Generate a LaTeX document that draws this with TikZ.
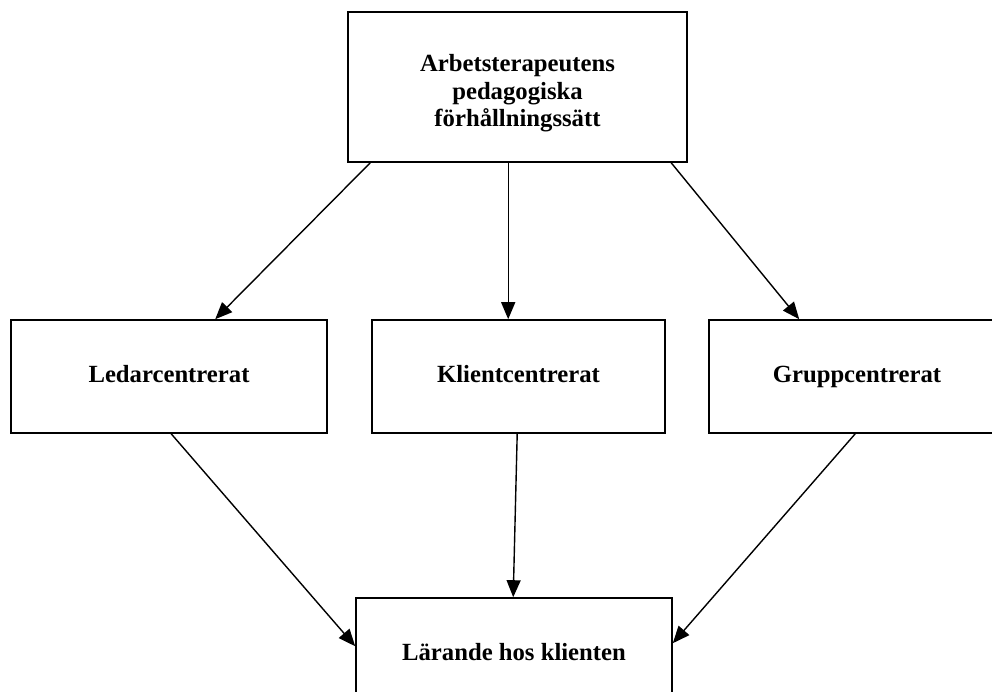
\documentclass[tikz,border=0pt]{standalone}
\usepackage{fontspec}
\setmainfont{Liberation Serif}
\usetikzlibrary{arrows.meta}
\begin{document}
\begin{tikzpicture}[x=1pt,y=-1pt,
  box/.style={draw=black, line width=1.6pt, inner sep=0pt, align=center,
    font=\fontsize{24.7}{27.5}\selectfont\bfseries},
  onebox/.style={box, minimum height=113pt, text height=16pt, text depth=5pt},
  conn/.style={line width=1.4pt, -{Triangle[length=17pt,width=14pt]}}]
\useasboundingbox (0,0) rectangle (992,691);
\clip (0,0) rectangle (992,691);
\node[box, minimum width=339pt, minimum height=150pt] (top) at (517.5,87)
  {\rule{0pt}{30pt}Arbetsterapeutens\\pedagogiska\\förhållningssätt};
\node[onebox, minimum width=316pt] (led) at (169,376.5) {Ledarcentrerat};
\node[onebox, minimum width=293pt] (kli) at (518.5,376.5) {Klientcentrerat};
\node[onebox, minimum width=296pt] (grp) at (857,376.5) {Gruppcentrerat};
\node[onebox, minimum width=316pt] (bot) at (514,654.5) {Lärande hos klienten};
\draw[conn] ([xshift=23pt]top.south west) -- ([xshift=205pt]led.north west);
\draw[conn] ([xshift=161pt]top.south west) -- ([xshift=137pt]kli.north west);
\draw[conn] ([xshift=324pt]top.south west) -- ([xshift=91pt]grp.north west);
\draw[conn] ([xshift=161pt]led.south west) -- ([yshift=-49pt]bot.north west);
\draw[conn] ([xshift=146pt]kli.south west) -- ([xshift=158pt]bot.north west);
\draw[conn] ([xshift=147pt]grp.south west) -- ([yshift=-46pt]bot.north east);
\end{tikzpicture}
\end{document}
